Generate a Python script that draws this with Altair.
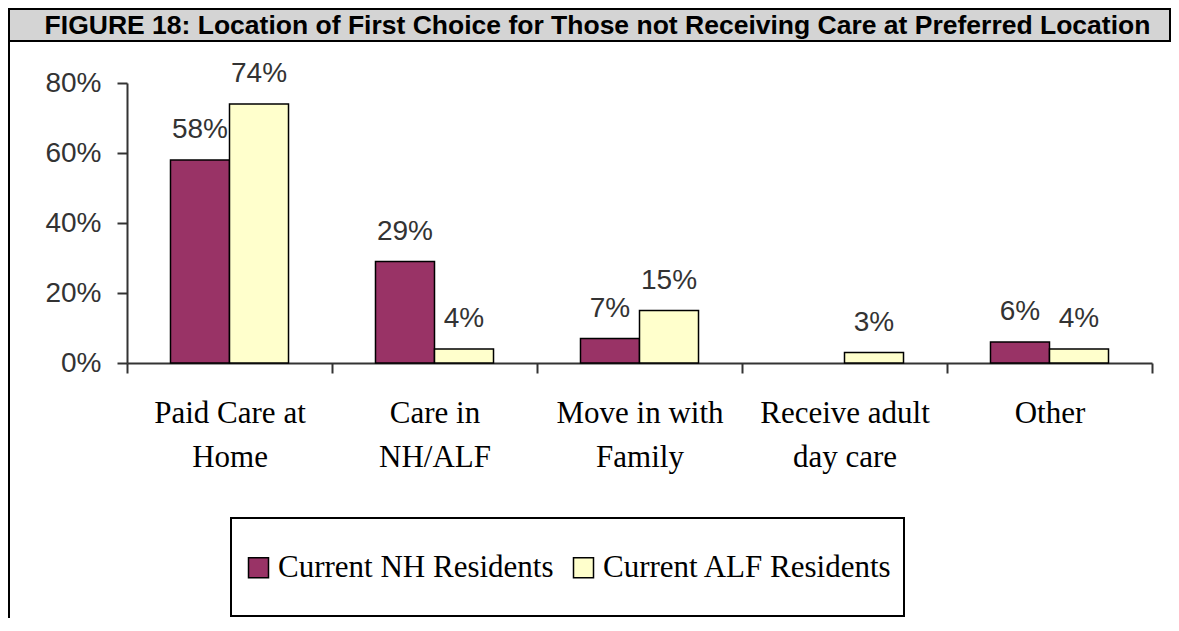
import altair as alt
import pandas as pd

title_text = "FIGURE 18: Location of First Choice for Those not Receiving Care at Preferred Location"
categories = ["Paid Care at\nHome", "Care in\nNH/ALF", "Move in with\nFamily", "Receive adult\nday care", "Other"]
series = ["Current NH Residents", "Current ALF Residents"]
nh_values = [58, 29, 7, 0, 6]
alf_values = [74, 4, 15, 3, 4]
y_ticks = [0, 20, 40, 60, 80]
colors = ["#993366", "#FFFFCC"]

rows = []
for c, v in zip(categories, nh_values):
    rows.append({"category": c, "series": series[0], "value": v})
for c, v in zip(categories, alf_values):
    rows.append({"category": c, "series": series[1], "value": v})
df = pd.DataFrame(rows)

AXIS_COLOR = "#333333"

x_enc = alt.X(
    "category:N", sort=categories, title=None,
    scale=alt.Scale(paddingInner=0, paddingOuter=0),
    axis=alt.Axis(
        labelAngle=0, tickBand="extent", tickSize=10, tickWidth=2, domainWidth=2,
        domainColor=AXIS_COLOR, tickColor=AXIS_COLOR,
        labelExpr="split(datum.label, '\\n')",
        labelFont="Liberation Serif", labelFontSize=31, labelLineHeight=44,
        labelColor="black", labelPadding=25, labelBaseline="top", labelLimit=0,
    ),
)
xo_enc = alt.XOffset("series:N", sort=series,
                     scale=alt.Scale(paddingInner=0, paddingOuter=0.737))
y_enc = alt.Y(
    "value:Q", title=None,
    scale=alt.Scale(domain=[0, 80]),
    axis=alt.Axis(
        values=y_ticks, labelExpr="datum.value + '%'", grid=False,
        tickSize=10, tickWidth=2, domainWidth=2,
        domainColor=AXIS_COLOR, tickColor=AXIS_COLOR,
        labelFont="Liberation Sans", labelFontSize=28, labelColor="#333333",
        labelPadding=16,
    ),
)

base = alt.Chart(df).transform_filter("datum.value > 0")

bars = base.mark_bar(stroke="black", strokeWidth=1.5).encode(
    x=x_enc, xOffset=xo_enc, y=y_enc,
    color=alt.Color(
        "series:N", sort=series,
        scale=alt.Scale(domain=series, range=colors),
        legend=alt.Legend(
            title=None, orient="none", legendX=116, legendY=469,
            direction="horizontal",
            symbolType="square",
            symbolSize=400, symbolStrokeColor="black", symbolStrokeWidth=1.5,
            labelFont="Liberation Serif", labelFontSize=31, labelColor="black",
            labelOffset=4, columnPadding=14, padding=0, labelLimit=0,
        ),
    ),
)

labels = base.mark_text(
    font="Liberation Sans", fontSize=28, baseline="alphabetic", dy=-22, color="#333333"
).encode(
    x=alt.X("category:N", sort=categories),
    xOffset=alt.XOffset("series:N", sort=series),
    y=alt.Y("value:Q"),
    text=alt.Text("label:N"),
).transform_calculate(label="datum.value + '%'")

one = pd.DataFrame({"t": [title_text]})
title_bar = alt.Chart(one).mark_rect(fill="#d4d4d4", stroke="black", strokeWidth=2).encode(
    x=alt.value(-118), x2=alt.value(1043), y=alt.value(-74), y2=alt.value(-42)
)
left_rule = alt.Chart(one).mark_rule(color="black", strokeWidth=2).encode(
    x=alt.value(-118), y=alt.value(-42), y2=alt.value(540)
)
legend_box = alt.Chart(one).mark_rect(fill="white", stroke="black", strokeWidth=2).encode(
    x=alt.value(104), x2=alt.value(777), y=alt.value(435), y2=alt.value(533)
)
title = alt.Chart(one).mark_text(
    font="Liberation Sans", fontSize=26.5, fontWeight="bold", align="center",
    baseline="alphabetic", color="black"
).encode(x=alt.value(470.5), y=alt.value(-49.5), text="t:N")

chart = alt.layer(title_bar, left_rule, legend_box, title, bars, labels).properties(
    width=1025, height=280,
    padding={"left": 119, "top": 75, "right": 19, "bottom": 255},
    autosize=alt.AutoSizeParams(type="none"),
).configure_view(stroke=None)

chart.save("out.html", embed_options={"renderer": "svg", "actions": False})
